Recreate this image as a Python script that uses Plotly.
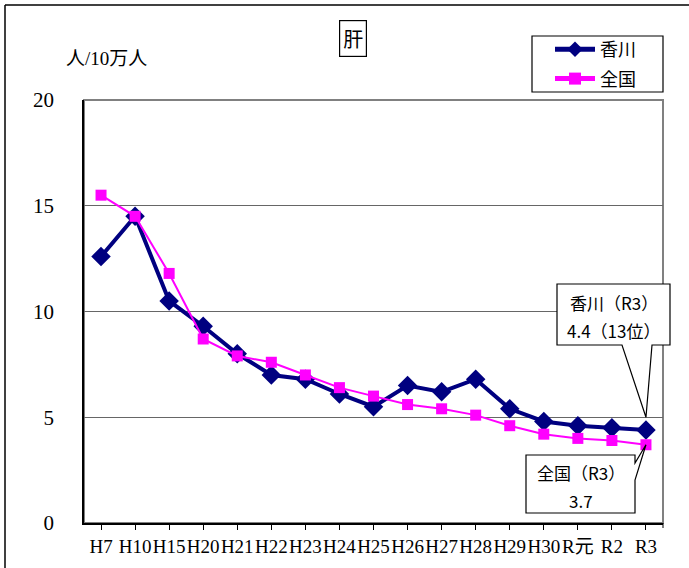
import plotly.graph_objects as go

categories = ["H7", "H10", "H15", "H20", "H21", "H22", "H23", "H24", "H25",
              "H26", "H27", "H28", "H29", "H30", "R元", "R2", "R3"]
kagawa = [12.6, 14.5, 10.5, 9.3, 8.0, 7.0, 6.8, 6.1, 5.5,
          6.5, 6.2, 6.8, 5.4, 4.8, 4.6, 4.5, 4.4]
zenkoku = [15.5, 14.5, 11.8, 8.7, 7.9, 7.6, 7.0, 6.4, 6.0,
           5.6, 5.4, 5.1, 4.6, 4.2, 4.0, 3.9, 3.7]
yticks = [0, 5, 10, 15, 20]

W, H = 689, 568
L, R, T, B = 84, 26, 100, 45
PW, PH = W - L - R, H - T - B
YMAX = 20
N = len(categories)

def px2x(p):
    return (p - L) / PW

def px2y(p):
    return (H - B - p) / PH

def d2x(i):
    return (i + 0.5) / N

def d2y(v):
    return v / YMAX

SERIF = "Liberation Serif, Noto Sans CJK JP"
SANS = "Noto Sans CJK JP, Noto Sans"

fig = go.Figure()
fig.add_trace(go.Scatter(
    x=categories, y=kagawa, name="香川", mode="lines+markers", legendgroup="a",
    line=dict(color="#000080", width=4),
    marker=dict(symbol="diamond", size=15, color="#000080"),
))
fig.add_trace(go.Scatter(
    x=categories, y=zenkoku, name="全国", mode="lines+markers", legendgroup="b",
    line=dict(color="#FF00FF", width=2),
    marker=dict(symbol="square", size=11, color="#FF00FF"),
))

shapes = []
# outer frame (top and left edges visible)
shapes.append(dict(type="line", xref="paper", yref="paper",
                   x0=px2x(5), x1=px2x(700), y0=px2y(5), y1=px2y(5),
                   line=dict(color="black", width=1.5)))
shapes.append(dict(type="line", xref="paper", yref="paper",
                   x0=px2x(5), x1=px2x(5), y0=px2y(5), y1=px2y(580),
                   line=dict(color="black", width=1.5)))
# plot area frame
shapes.append(dict(type="rect", xref="paper", yref="paper",
                   x0=0, x1=1, y0=0, y1=1, layer="below",
                   line=dict(color="#808080", width=2)))
# right edge tick
shapes.append(dict(type="line", xref="paper", yref="paper",
                   x0=1, x1=1, y0=0, y1=px2y(H - B + 5),
                   line=dict(color="black", width=1)))
# legend box
shapes.append(dict(type="rect", xref="paper", yref="paper",
                   x0=px2x(532), x1=px2x(663), y0=px2y(36), y1=px2y(92),
                   fillcolor="white", line=dict(color="black", width=1.2)))

# callout for 香川
i_last = N - 1
kL, kR, kT, kB = px2x(557), px2x(670), px2y(284), px2y(345)
kb1, kb2 = px2x(622), px2x(652)
ktx, kty = d2x(i_last), d2y(5.0)
shapes.append(dict(
    type="path", xref="paper", yref="paper", layer="above",
    path=(f"M {kL},{kT} L {kR},{kT} L {kR},{kB} L {kb2},{kB} L {ktx},{kty} "
          f"L {kb1},{kB} L {kL},{kB} Z"),
    fillcolor="white", line=dict(color="black", width=1.2)))

# callout for 全国
zL, zR, zT, zB = px2x(526), px2x(635), px2y(455), px2y(513)
zb1, zb2 = px2y(463), px2y(480)
ztx, zty = d2x(i_last), d2y(zenkoku[-1])
shapes.append(dict(
    type="path", xref="paper", yref="paper", layer="above",
    path=(f"M {zL},{zT} L {zR},{zT} L {zR},{zb1} L {ztx},{zty} "
          f"L {zR},{zb2} L {zR},{zB} L {zL},{zB} Z"),
    fillcolor="white", line=dict(color="black", width=1.2)))

def txt(text, x, y, size, family=SANS, **kw):
    return dict(text=text, xref="paper", yref="paper", x=x, y=y,
                xanchor="center", yanchor="middle", showarrow=False,
                font=dict(family=family, size=size, color="black"), **kw)

annotations = [
    txt("肝", px2x(353), px2y(38), 20,
        bordercolor="black", borderwidth=1.2, borderpad=3, bgcolor="white"),
    txt("人/10万人", px2x(106), px2y(58), 19, family=SERIF),
    txt("香川（R3）", (kL + kR) / 2, px2y(302), 17),
    txt(f"{kagawa[-1]}（13位）", (kL + kR) / 2, px2y(330), 17),
    txt("全国（R3）", (zL + zR) / 2, px2y(472), 17),
    txt(f"{zenkoku[-1]}", (zL + zR) / 2, px2y(500), 17),
]

fig.update_layout(
    width=W, height=H,
    margin=dict(l=L, r=R, t=T, b=B, autoexpand=False),
    paper_bgcolor="white", plot_bgcolor="white",
    showlegend=True,
    legend=dict(x=px2x(550), xanchor="left", y=px2y(31), yanchor="top",
                borderwidth=0, bgcolor="rgba(0,0,0,0)",
                font=dict(family=SANS, size=18, color="black"),
                traceorder="grouped", tracegroupgap=3,
                itemsizing="constant", itemwidth=40),
    xaxis=dict(type="category", range=[-0.5, N - 0.5],
               showline=True, linecolor="black", linewidth=1.5,
               ticks="outside", ticklen=5, tickcolor="black", tickangle=0,
               tickfont=dict(family=SERIF, size=19, color="black"),
               showgrid=False, zeroline=False, fixedrange=True, automargin=False),
    yaxis=dict(range=[0, YMAX], tickvals=yticks,
               showline=True, linecolor="black", linewidth=1.5,
               ticks="", ticklabelstandoff=24,
               tickfont=dict(family=SERIF, size=21, color="black"),
               showgrid=True, gridcolor="#666666", gridwidth=1,
               zeroline=False, fixedrange=True, automargin=False),
    shapes=shapes,
    annotations=annotations,
)

fig.write_html("out.html", config={"displayModeBar": False},
               post_script="document.body.style.margin='0';document.body.style.padding='0';")
